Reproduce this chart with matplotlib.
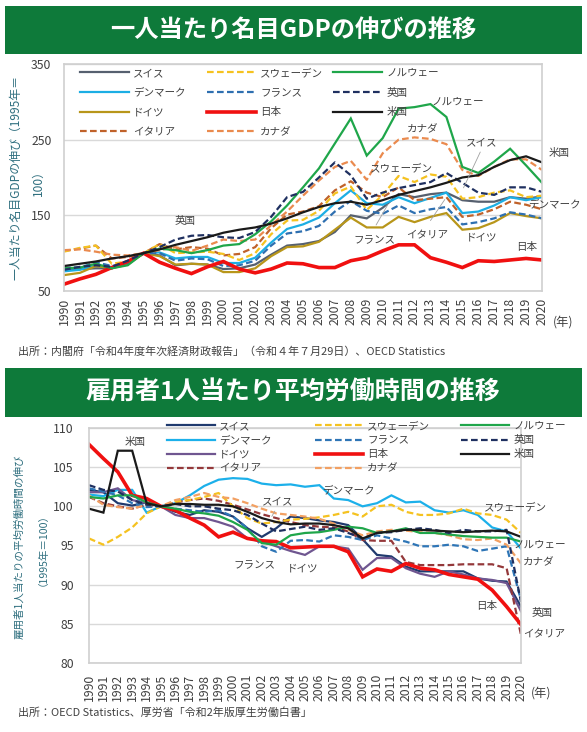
import matplotlib
matplotlib.use('Agg')
import matplotlib.pyplot as plt
from matplotlib.patches import Rectangle
from matplotlib.legend import Legend

plt.rcParams['font.family'] = ['Noto Sans CJK JP', 'DejaVu Sans']

W, H = 587, 732

years = list(range(1990, 2021))
year_labels = [str(y) for y in years]

names = ['スイス', 'デンマーク', 'ドイツ', 'イタリア', 'スウェーデン', 'フランス',
         '日本', 'カナダ', 'ノルウェー', '英国', '米国']

# ---- GDP per capita (1995 = 100) ----
gdp_swiss   = [78, 79, 80, 80, 88, 100, 97, 84, 86, 85, 79, 80, 85, 98, 110, 112, 116, 128, 150, 146, 160, 178, 174, 178, 180, 170, 168, 168, 174, 172, 175]
gdp_denmark = [76, 78, 84, 80, 87, 100, 101, 93, 95, 95, 87, 87, 94, 114, 132, 138, 147, 166, 183, 166, 164, 174, 166, 173, 180, 153, 155, 163, 174, 170, 174]
gdp_germany = [71, 74, 83, 80, 85, 100, 96, 85, 86, 85, 75, 75, 80, 96, 108, 109, 115, 131, 147, 134, 134, 148, 141, 148, 153, 131, 133, 141, 153, 149, 146]
gdp_italy   = [103, 106, 110, 93, 95, 100, 112, 105, 108, 106, 97, 99, 108, 133, 151, 155, 162, 183, 195, 180, 174, 187, 170, 172, 174, 148, 151, 158, 168, 164, 158]
gdp_sweden  = [102, 107, 110, 86, 89, 100, 112, 100, 101, 102, 99, 91, 100, 125, 143, 144, 156, 179, 188, 157, 177, 202, 194, 204, 201, 172, 174, 180, 183, 174, 176]
gdp_france  = [81, 81, 88, 83, 87, 100, 100, 90, 93, 92, 83, 84, 90, 110, 126, 129, 136, 155, 169, 156, 152, 163, 153, 158, 161, 138, 141, 146, 154, 151, 146]
gdp_japan   = [59, 66, 72, 81, 89, 100, 88, 80, 73, 82, 89, 79, 74, 79, 87, 86, 81, 81, 90, 94, 103, 111, 111, 94, 88, 81, 90, 89, 91, 93, 91]
gdp_canada  = [104, 105, 102, 98, 97, 100, 104, 108, 103, 110, 118, 116, 118, 137, 155, 176, 196, 214, 222, 197, 232, 250, 253, 251, 244, 210, 202, 214, 224, 224, 210]
gdp_norway  = [80, 81, 86, 80, 84, 100, 106, 104, 100, 104, 110, 112, 125, 142, 163, 187, 212, 245, 278, 229, 252, 291, 293, 297, 280, 214, 206, 221, 238, 216, 193]
gdp_uk      = [78, 82, 84, 82, 90, 100, 108, 118, 123, 124, 121, 120, 128, 148, 174, 181, 200, 220, 203, 172, 180, 186, 190, 194, 206, 193, 180, 177, 187, 187, 181]
gdp_us      = [83, 86, 89, 93, 96, 100, 105, 111, 116, 121, 127, 131, 134, 139, 146, 154, 161, 166, 168, 164, 170, 177, 182, 187, 193, 200, 203, 214, 223, 228, 220]

# ---- Average annual hours per employee (1995 = 100) ----
hrs_swiss   = [102.1, 101.8, 100.4, 100.1, 100.5, 100, 99.3, 98.9, 99.5, 99.3, 98.7, 97.2, 96.1, 97.2, 98.7, 98.5, 98.2, 98.0, 97.6, 95.8, 93.8, 93.6, 92.3, 91.7, 91.7, 91.7, 91.7, 90.8, 90.5, 90.4, 87.2]
hrs_denmark = [101.5, 101.3, 102.1, 102.1, 99.2, 100, 100.4, 101.4, 102.6, 103.4, 103.6, 103.5, 102.9, 102.7, 102.8, 102.5, 102.7, 101.0, 100.8, 100.0, 100.4, 101.4, 100.5, 100.6, 99.5, 99.2, 99.5, 98.9, 97.3, 96.8, 94.6]
hrs_germany = [101.8, 101.8, 102.3, 100.8, 100.4, 100, 98.9, 98.5, 98.5, 98.0, 97.4, 95.9, 95.5, 94.9, 94.3, 93.8, 94.9, 94.9, 94.6, 91.9, 93.4, 93.4, 92.1, 91.4, 91.0, 91.7, 91.3, 90.8, 90.6, 90.2, 86.6]
hrs_italy   = [101.2, 100.4, 100.0, 99.7, 100.2, 100, 100.5, 100.8, 101.0, 100.7, 100.2, 99.6, 99.0, 98.5, 98.0, 97.6, 97.4, 97.3, 96.8, 95.7, 95.6, 95.6, 92.9, 92.5, 92.5, 92.5, 92.6, 92.6, 92.6, 92.1, 83.6]
hrs_sweden  = [95.9, 95.1, 96.1, 97.3, 99.1, 100, 100.6, 100.8, 101.2, 101.7, 100.0, 98.5, 97.8, 98.0, 98.3, 98.4, 98.6, 98.9, 99.3, 98.7, 100.0, 100.2, 99.3, 98.9, 98.9, 99.1, 99.7, 99.1, 98.9, 98.3, 96.6]
hrs_france  = [102.3, 101.9, 101.4, 100.4, 99.9, 100, 99.7, 99.5, 99.3, 99.5, 98.7, 97.2, 94.9, 94.2, 95.6, 95.7, 95.5, 96.3, 96.1, 95.7, 96.3, 95.9, 95.5, 94.9, 94.9, 95.1, 94.9, 94.3, 94.6, 94.9, 88.0]
hrs_japan   = [107.9, 106.1, 104.4, 101.4, 101.0, 100, 99.5, 98.5, 97.6, 96.1, 96.7, 95.9, 95.6, 95.5, 94.7, 94.8, 94.9, 94.9, 94.2, 91.0, 92.0, 91.7, 92.7, 92.1, 91.9, 91.3, 91.0, 90.7, 89.3, 87.2, 84.9]
hrs_canada  = [101.4, 100.2, 99.9, 99.7, 100.2, 100, 100.8, 101.2, 101.7, 101.2, 101.0, 100.4, 99.7, 99.1, 98.9, 98.7, 98.4, 97.8, 97.0, 96.3, 96.8, 97.0, 96.9, 96.7, 96.6, 96.3, 95.8, 95.7, 95.9, 95.1, 92.7]
hrs_norway  = [101.2, 101.0, 101.4, 101.4, 100.5, 100, 99.7, 99.3, 99.1, 98.8, 98.0, 97.0, 95.3, 95.1, 96.3, 96.6, 96.7, 97.0, 97.4, 97.2, 96.6, 96.8, 97.2, 96.6, 96.6, 96.4, 96.2, 96.1, 96.0, 96.0, 95.5]
hrs_uk      = [102.7, 102.1, 101.9, 100.8, 100.2, 100, 100.3, 100.0, 100.0, 99.7, 99.5, 98.9, 97.8, 96.8, 97.1, 97.4, 97.0, 97.2, 96.6, 95.9, 96.6, 96.7, 97.0, 97.2, 97.0, 96.6, 97.0, 96.8, 96.8, 97.0, 87.8]
hrs_us      = [99.7, 99.2, 107.1, 107.1, 100.4, 100, 100.3, 100.3, 100.2, 100.2, 100.0, 99.3, 98.5, 98.0, 97.7, 97.8, 97.8, 97.6, 97.2, 95.9, 96.6, 96.8, 97.0, 97.0, 96.9, 96.8, 96.7, 96.8, 96.9, 96.8, 96.1]

gdp_series = [gdp_swiss, gdp_denmark, gdp_germany, gdp_italy, gdp_sweden, gdp_france,
              gdp_japan, gdp_canada, gdp_norway, gdp_uk, gdp_us]
hrs_series = [hrs_swiss, hrs_denmark, hrs_germany, hrs_italy, hrs_sweden, hrs_france,
              hrs_japan, hrs_canada, hrs_norway, hrs_uk, hrs_us]

gdp_yticks = [50, 150, 250, 350]
hrs_yticks = [80, 85, 90, 95, 100, 105, 110]

# ---- styles ----
DASH = (0, (3.0, 1.5))
gdp_styles = {
    'スイス': ('#56606F', '-', 1.6), 'デンマーク': ('#1CAEE4', '-', 1.6),
    'ドイツ': ('#B8961A', '-', 1.6), 'イタリア': ('#C0622A', DASH, 1.6),
    'スウェーデン': ('#F5C220', DASH, 1.6), 'フランス': ('#2E6FB0', DASH, 1.6),
    '日本': ('#F01010', '-', 2.6), 'カナダ': ('#EA8A4E', DASH, 1.6),
    'ノルウェー': ('#1FA64A', '-', 1.6), '英国': ('#1F3060', DASH, 1.6),
    '米国': ('#1A1A1A', '-', 1.6),
}
hrs_styles = {
    'スイス': ('#1F3A6E', '-', 1.6), 'デンマーク': ('#1CB0EA', '-', 1.6),
    'ドイツ': ('#6F5690', '-', 1.6), 'イタリア': ('#94383A', DASH, 1.6),
    'スウェーデン': ('#F5C220', DASH, 1.6), 'フランス': ('#2E75B6', DASH, 1.6),
    '日本': ('#F01010', '-', 2.6), 'カナダ': ('#F2A062', DASH, 1.6),
    'ノルウェー': ('#1FA64A', '-', 1.6), '英国': ('#1F3060', DASH, 1.6),
    '米国': ('#1A1A1A', '-', 1.6),
}

TXT = '#404040'
LBL = '#2F6F7F'
GREEN = '#0E7A3A'

fig = plt.figure(figsize=(W / 100, H / 100), dpi=100)


def fx(px):
    return px / W


def fy(py):
    return 1 - py / H


def title_bar(y0, y1, text, fs):
    fig.patches.append(Rectangle((fx(5), fy(y1)), fx(582) - fx(5), (y1 - y0) / H,
                                 transform=fig.transFigure, facecolor=GREEN,
                                 edgecolor='none', zorder=0))
    fig.text(fx(293), fy((y0 + y1) / 2), text, color='white', fontsize=fs,
             fontweight='bold', ha='center', va='center')


def make_axes(left, right, top, bottom):
    return fig.add_axes([fx(left), fy(bottom), fx(right) - fx(left), (bottom - top) / H])


def style_axes(ax, ylim, yticks, ypad, xpad):
    ax.set_xlim(years[0], years[-1])
    ax.set_ylim(*ylim)
    ax.set_yticks(yticks)
    ax.set_xticks(years)
    ax.set_xticklabels(year_labels, rotation=90)
    ax.tick_params(axis='both', length=0, labelsize=8.8, colors=TXT)
    ax.tick_params(axis='y', pad=ypad)
    ax.tick_params(axis='x', pad=xpad)
    ax.grid(axis='y', color='#D9D9D9', lw=1.0)
    ax.set_axisbelow(True)
    for s in ax.spines.values():
        s.set_color('#CFCFCF')
        s.set_linewidth(1.2)


def draw_lines(ax, series, styles):
    lines = {}
    for n, vals in zip(names, series):
        c, ls, lw = styles[n]
        ln, = ax.plot(years, vals, color=c, linestyle=ls, lw=lw, solid_joinstyle='miter')
        lines[n] = ln
    return lines


def column_legends(ax, lines, xs, ytop, hl, fs, spacing):
    cols = [names[0:4], names[4:8], names[8:11]]
    for col, x in zip(cols, xs):
        leg = Legend(ax, [lines[n] for n in col], col, loc='upper left',
                     bbox_to_anchor=(fx(x), fy(ytop)), bbox_transform=fig.transFigure,
                     frameon=False, fontsize=fs, handlelength=hl, handletextpad=0.45,
                     labelspacing=spacing, borderpad=0, borderaxespad=0,
                     labelcolor=TXT)
        ax.add_artist(leg)


# ================= Chart 1 =================
title_bar(6, 54, '一人当たり名目GDPの伸びの推移', 17.5)
ax1 = make_axes(64, 542, 64, 291)
style_axes(ax1, (50, 350), gdp_yticks, 9, 5)
lines1 = draw_lines(ax1, gdp_series, gdp_styles)
column_legends(ax1, lines1, [80, 207, 333], 68, 4.6, 7.6, 0.92)

top_annots = [('英国', 1997.6, 142), ('フランス', 2009.5, 117), ('スウェーデン', 2011.2, 212),
              ('カナダ', 2012.5, 264), ('ノルウェー', 2014.7, 300), ('スイス', 2016.2, 247),
              ('イタリア', 2012.8, 124), ('ドイツ', 2016.2, 121), ('日本', 2019.05, 108),
              ('米国', 2021.1, 233), ('デンマーク', 2020.8, 165)]
for t, x, y in top_annots:
    ax1.text(x, y, t, fontsize=7.6, color=TXT, ha='center', va='center', clip_on=False)
for (x0, y0), (x1, y1) in [((2016.2, 237), (2015.0, 183)),
                           ((2012.9, 140), (2014.0, 174)),
                           ((2009.5, 134), (2010.4, 167))]:
    ax1.annotate('', xy=(x1, y1), xytext=(x0, y0),
                 arrowprops=dict(arrowstyle='-', color='#A0A0A0', lw=0.6))

fig.text(fx(16), fy(177), '一人当たり名目GDPの伸び（1995年＝', rotation=90,
         fontsize=8.6, color=LBL, ha='center', va='center')
fig.text(fx(38), fy(180), '100）', rotation=90, fontsize=8.6, color=LBL,
         ha='center', va='center')
fig.text(fx(563), fy(322), '(年)', fontsize=8.8, color=TXT, ha='center', va='center')
fig.text(fx(18), fy(351), '出所：内閣府「令和4年度年次経済財政報告」（令和４年７月29日）、OECD Statistics',
         fontsize=7.9, color=TXT, ha='left', va='center')

# ================= Chart 2 =================
title_bar(368, 417, '雇用者1人当たり平均労働時間の推移', 18)
ax2 = make_axes(89, 521, 428, 663)
style_axes(ax2, (80, 110), hrs_yticks, 11, 8)
lines2 = draw_lines(ax2, hrs_series, hrs_styles)
column_legends(ax2, lines2, [167, 315, 461], 421, 4.5, 7.6, 0.4)

bot_annots = [('米国', 1993.2, 108.2), ('スイス', 2003.1, 100.6), ('フランス', 2001.5, 92.5),
              ('ドイツ', 2004.8, 92.1), ('デンマーク', 2008.0, 102.1), ('スウェーデン', 2019.6, 99.9),
              ('ノルウェー', 2021.3, 95.1), ('カナダ', 2021.25, 92.9), ('日本', 2017.6, 87.3),
              ('英国', 2021.45, 86.4), ('イタリア', 2021.6, 83.6)]
for t, x, y in bot_annots:
    ax2.text(x, y, t, fontsize=7.6, color=TXT, ha='center', va='center', clip_on=False)
ax2.annotate('', xy=(2002.6, 98.4), xytext=(2003.0, 99.7),
             arrowprops=dict(arrowstyle='-', color='#A0A0A0', lw=0.6))

fig.text(fx(19), fy(547), '雇用者1人当たりの平均労働時間の伸び', rotation=90,
         fontsize=7.6, color=LBL, ha='center', va='center')
fig.text(fx(38), fy(545), '（1995年＝100）', rotation=90, fontsize=7.6, color=LBL,
         ha='center', va='center')
fig.text(fx(541), fy(693), '(年)', fontsize=8.8, color=TXT, ha='center', va='center')
fig.text(fx(18), fy(712), '出所：OECD Statistics、厚労省「令和2年版厚生労働白書」',
         fontsize=7.9, color=TXT, ha='left', va='center')

fig.savefig('out.png', dpi=100, facecolor='white')
